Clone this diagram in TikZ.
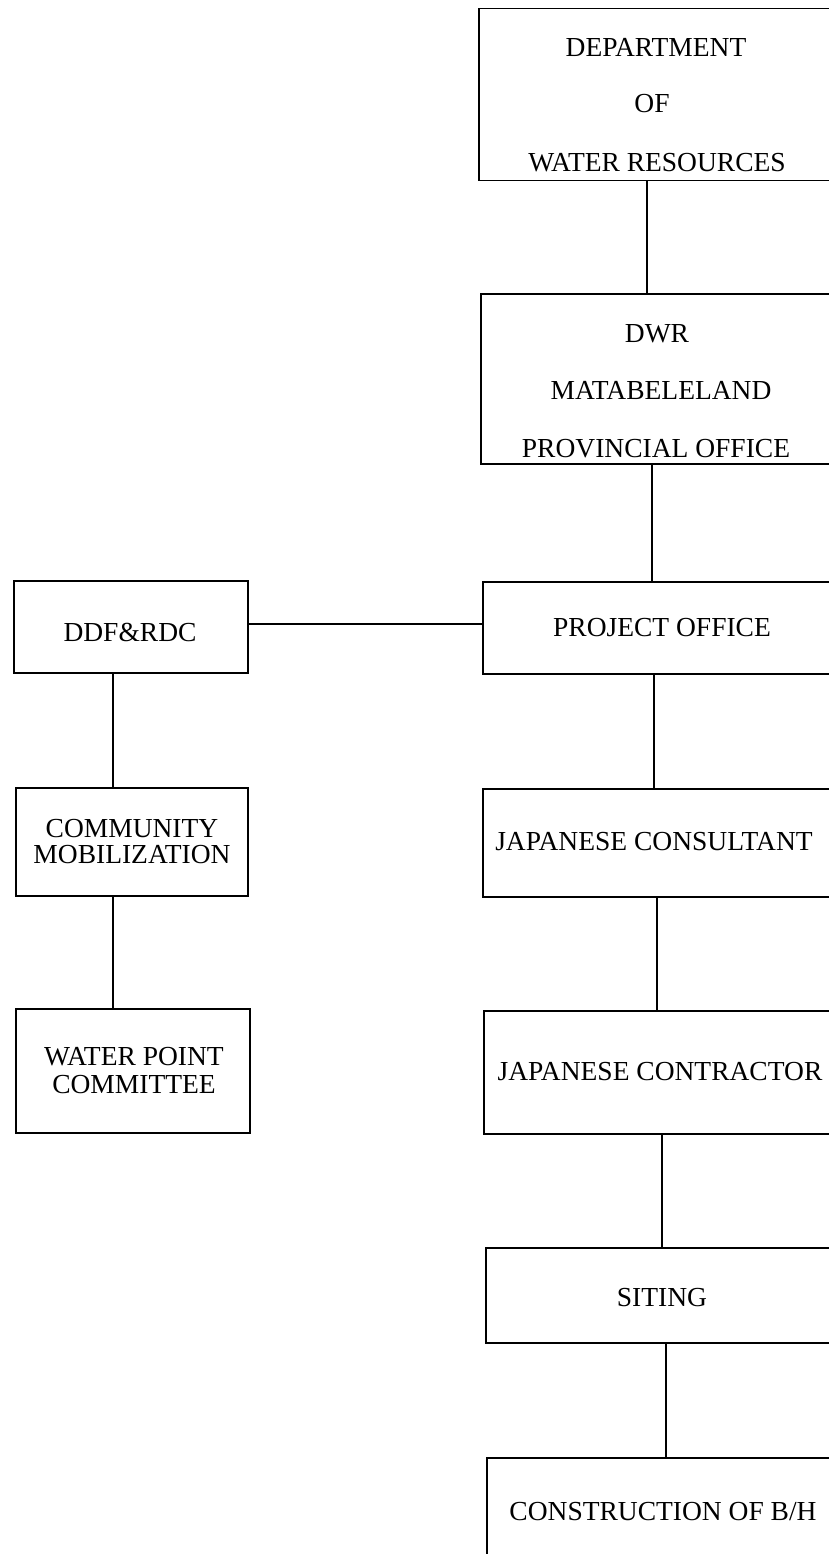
\documentclass[tikz,border=0pt]{standalone}
\usepackage{fontspec}
\setmainfont{Liberation Serif}
\begin{document}
\begin{tikzpicture}[x=1pt,y=-1pt,
  box/.style={draw, line width=1.5pt, inner sep=0pt, anchor=north west},
  txt/.style={font=\fontsize{27.5}{27.5}\selectfont, inner sep=0pt, anchor=base},
  conn/.style={line width=1.5pt}]
\useasboundingbox (0,0) rectangle (829,1554);
\clip (0,0) rectangle (829,1554);
% right column boxes
\node[box, minimum width=400pt, minimum height=172pt] (b1) at (478,8) {};
\node[box, minimum width=400pt, minimum height=170pt] (b2) at (480,293) {};
\node[box, minimum width=400pt, minimum height=92pt] (b3) at (482,581) {};
\node[box, minimum width=400pt, minimum height=108pt] (b4) at (482,788) {};
\node[box, minimum width=400pt, minimum height=123pt] (b5) at (483,1010) {};
\node[box, minimum width=400pt, minimum height=95pt] (b6) at (485,1247) {};
\node[box, minimum width=400pt, minimum height=200pt] (b7) at (486,1457) {};
% left column boxes
\node[box, minimum width=234pt, minimum height=92pt] (l1) at (13,580) {};
\node[box, minimum width=232pt, minimum height=108pt] (l2) at (15,787) {};
\node[box, minimum width=234pt, minimum height=124pt] (l3) at (15,1008) {};
% texts
\node[txt] (t1a) at (656,57) {DEPARTMENT};
\node[txt] (t1b) at (652,113) {OF};
\node[txt] (t1c) at (657,172) {WATER RESOURCES};
\node[txt] (t2a) at (657,342) {DWR};
\node[txt] (t2b) at (661,399) {MATABELELAND};
\node[txt] (t2c) at (656,457) {PROVINCIAL OFFICE};
\node[txt] (t3) at (662,636) {PROJECT OFFICE};
\node[txt] (t4) at (654,850) {JAPANESE CONSULTANT};
\node[txt] (t5) at (660,1080) {JAPANESE CONTRACTOR};
\node[txt] (t6) at (662,1306) {SITING};
\node[txt] (t7) at (663,1520) {CONSTRUCTION OF B/H};
\node[txt] (s1) at (130,641) {DDF\&RDC};
\node[txt] (s2a) at (132,837) {COMMUNITY};
\node[txt] (s2b) at (132,863) {MOBILIZATION};
\node[txt] (s3a) at (134,1065) {WATER POINT};
\node[txt] (s3b) at (134,1093) {COMMITTEE};
% connectors
\draw[conn] ([xshift=169pt]b1.south west) -- ([xshift=169pt]b1.south west |- b2.north);
\draw[conn] ([xshift=172pt]b2.south west) -- ([xshift=172pt]b2.south west |- b3.north);
\draw[conn] ([xshift=172pt]b3.south west) -- ([xshift=172pt]b3.south west |- b4.north);
\draw[conn] ([xshift=175pt]b4.south west) -- ([xshift=175pt]b4.south west |- b5.north);
\draw[conn] ([xshift=179pt]b5.south west) -- ([xshift=179pt]b5.south west |- b6.north);
\draw[conn] ([xshift=181pt]b6.south west) -- ([xshift=181pt]b6.south west |- b7.north);
\draw[conn] ([yshift=3pt]l1.east) -- ([yshift=3pt]l1.east -| b3.west);
\draw[conn] ([xshift=100pt]l1.south west) -- ([xshift=100pt]l1.south west |- l2.north);
\draw[conn] ([xshift=98pt]l2.south west) -- ([xshift=98pt]l2.south west |- l3.north);
\end{tikzpicture}
\end{document}
